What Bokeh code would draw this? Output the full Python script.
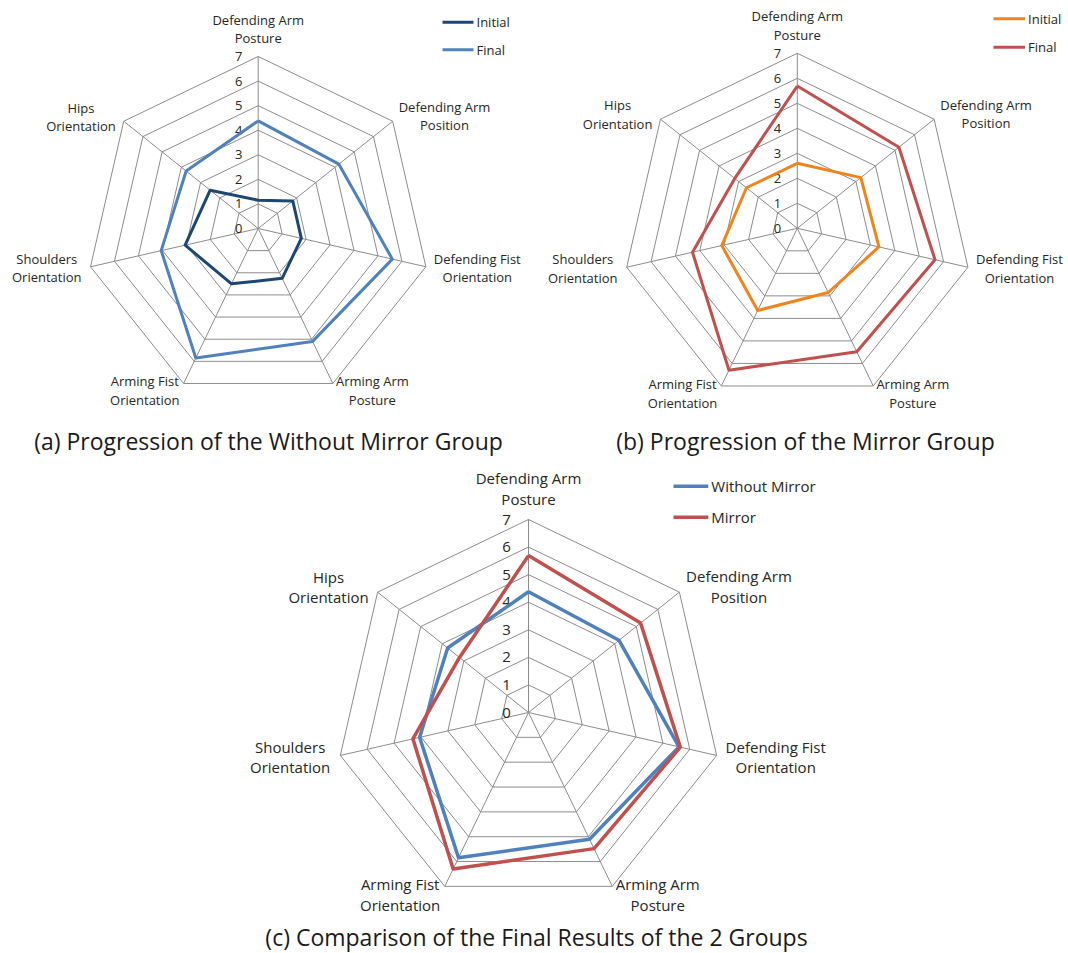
import math
from bokeh.plotting import figure
from bokeh.models import Range1d
from bokeh.embed import file_html
from bokeh.resources import INLINE
from bokeh.core.properties import value

# ---------------- data ----------------
categories = ["Defending Arm Posture", "Defending Arm Position", "Defending Fist Orientation",
              "Arming Arm Posture", "Arming Fist Orientation", "Shoulders Orientation",
              "Hips Orientation"]
category_lines = [["Defending Arm", "Posture"], ["Defending Arm", "Position"],
                  ["Defending Fist", "Orientation"], ["Arming Arm", "Posture"],
                  ["Arming Fist", "Orientation"], ["Shoulders", "Orientation"],
                  ["Hips", "Orientation"]]
tick_values = [0, 1, 2, 3, 4, 5, 6, 7]
tick_labels = ["0", "1", "2", "3", "4", "5", "6", "7"]

no_mirror_initial = [1.15, 1.8, 1.8, 2.25, 2.5, 3.05, 2.5]
no_mirror_final = [4.38, 4.2, 5.6, 5.1, 5.85, 4.05, 3.75]
mirror_initial = [2.6, 3.25, 3.35, 2.85, 3.65, 3.1, 2.6]
mirror_final = [5.69, 5.2, 5.65, 5.48, 6.3, 4.3, 3.2]

captions = ["(a) Progression of the Without Mirror Group",
            "(b) Progression of the Mirror Group",
            "(c) Comparison of the Final Results of the 2 Groups"]

# ---------------- layout ----------------
W, H = 1068, 953
p = figure(width=W, height=H, x_range=Range1d(0, W), y_range=Range1d(H, 0),
           output_backend="svg", toolbar_location=None,
           x_axis_location=None, y_axis_location=None, min_border=0,
           outline_line_color=None, background_fill_color="white",
           border_fill_color="white")
p.grid.visible = False

FONT = "Open Sans"
TEXT_COLOR = "#262626"
GRID_COLOR = "#8c8c8c"

# approximate Open Sans advance widths (em) for centring two-line label blocks
CW = {" ": 0.26, "A": 0.633, "D": 0.71, "F": 0.521, "H": 0.738, "O": 0.779, "P": 0.59,
      "S": 0.547, "a": 0.556, "d": 0.613, "e": 0.561, "f": 0.339, "g": 0.548, "h": 0.614,
      "i": 0.253, "l": 0.253, "m": 0.93, "n": 0.614, "o": 0.604, "p": 0.613, "r": 0.408,
      "s": 0.477, "t": 0.353, "u": 0.614}


def text_w(s, px):
    return sum(CW.get(c, 0.55) for c in s) * px


def radar(cx, cy, R, series, colors, names, legend_x, legend_y, legend_gap, font_px, lw):
    n = len(categories)
    s = R / tick_values[-1]
    k = R / 172.0
    ang = [2 * math.pi * i / n for i in range(n)]

    def pt(v, i):
        return cx + v * s * math.sin(ang[i]), cy - v * s * math.cos(ang[i])

    # rings
    xs, ys = [], []
    for t in tick_values[1:]:
        pts = [pt(t, i) for i in range(n)] + [pt(t, 0)]
        xs.append([q[0] for q in pts])
        ys.append([q[1] for q in pts])
    # spokes
    for i in range(n):
        e = pt(tick_values[-1], i)
        xs.append([cx, e[0]])
        ys.append([cy, e[1]])
    p.multi_line(xs, ys, line_color=GRID_COLOR, line_width=1)

    # tick labels
    p.text(x=[cx - 19.5 * k] * len(tick_values), y=[cy - v * s for v in tick_values],
           text=tick_labels, text_font=value(FONT), text_font_size=f"{font_px}px",
           text_color=TEXT_COLOR, text_align="center", text_baseline="middle")

    # series
    for vals, col in zip(series, colors):
        pts = [pt(v, i) for i, v in enumerate(vals)] + [pt(vals[0], 0)]
        p.line([q[0] for q in pts], [q[1] for q in pts], line_color=col,
               line_width=lw, line_join="round")

    # category labels
    lh = 18.4 * k
    tx, ty, tt = [], [], []
    for i, lines in enumerate(category_lines):
        vx, vy = pt(tick_values[-1], i)
        bw = max(text_w(l, font_px) for l in lines)
        if i == 0:
            bcx, y1 = vx, vy - 36.7 * k
        elif i == 1:
            bcx, y1 = vx + 6 * k + bw / 2, vy - 5 * k - lh / 2
        elif i == 2:
            bcx, y1 = vx + 8 * k + bw / 2, vy + 1.5 * k - lh / 2
        elif i == 3:
            bcx, y1 = vx + 3 * k + bw / 2, vy - 2 * k
        elif i == 4:
            bcx, y1 = vx - 4 * k - bw / 2, vy - 2 * k
        elif i == 5:
            bcx, y1 = vx - 9 * k - bw / 2, vy + 1.5 * k - lh / 2
        else:
            bcx, y1 = vx - 8 * k - bw / 2, vy - 4.5 * k - lh / 2
        for j, l in enumerate(lines):
            tx.append(bcx)
            ty.append(y1 + j * lh)
            tt.append(l)
    p.text(x=tx, y=ty, text=tt, text_font=value(FONT), text_font_size=f"{font_px}px",
           text_color=TEXT_COLOR, text_align="center", text_baseline="middle")

    # legend
    llen = 31 * k
    for j, (nm, col) in enumerate(zip(names, colors)):
        yy = legend_y + j * legend_gap
        p.line([legend_x, legend_x + llen], [yy, yy], line_color=col, line_width=lw)
        p.text(x=[legend_x + llen + 3], y=[yy], text=[nm], text_font=value(FONT),
               text_font_size=f"{font_px}px", text_color=TEXT_COLOR,
               text_align="left", text_baseline="middle")


radar(257.7, 228.0, 172.0, [no_mirror_initial, no_mirror_final], ["#1c4674", "#4f81bd"],
      ["Initial", "Final"], 442, 21.7, 27.6, 13, 3)
radar(796.8, 227.8, 175.0, [mirror_initial, mirror_final], ["#f0841c", "#c0504d"],
      ["Initial", "Final"], 993, 18.3, 28.4, 13, 3)
radar(528.0, 712.0, 193.0, [no_mirror_final, mirror_final], ["#4f81bd", "#c0504d"],
      ["Without Mirror", "Mirror"], 673, 485.7, 31.0, 15, 3.5)

# captions
p.text(x=[268, 805, 536], y=[440, 440, 936], text=captions, text_font=value(FONT),
       text_font_size="23px", text_color="#1a1a1a", text_align="center",
       text_baseline="middle")

open("out.html", "w").write(file_html(p, INLINE))
